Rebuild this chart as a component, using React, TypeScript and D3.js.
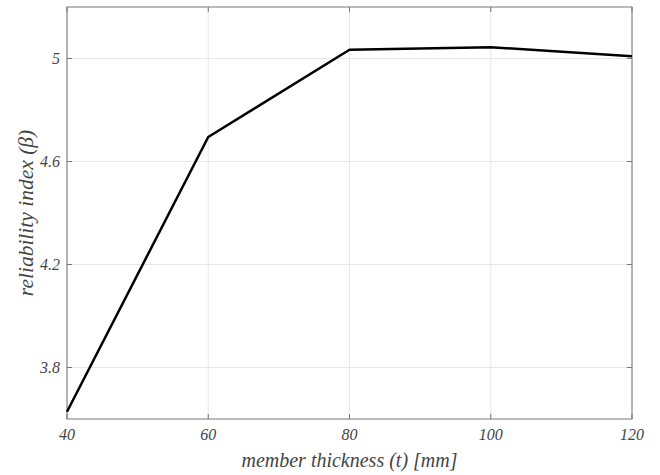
import React from "react";
import * as d3 from "d3";

const thickness = [40, 60, 80, 100, 120];
const beta = [3.628, 4.695, 5.034, 5.044, 5.009];
const xTicks = [40, 60, 80, 100, 120];
const yTicks = [3.8, 4.2, 4.6, 5];

const W = 660, H = 475;
const m = { left: 67, right: 28, top: 7, bottom: 56 };

export default function App() {
  const x = d3.scaleLinear().domain([40, 120]).range([m.left, W - m.right]);
  const y = d3.scaleLinear().domain([3.6, 5.2]).range([H - m.bottom, m.top]);
  const line = d3.line<number>().x((_, i) => x(thickness[i])).y((d) => y(d));
  const font = "'Liberation Serif', 'DejaVu Serif', serif";
  const x0 = m.left, x1 = W - m.right, y0 = m.top, y1 = H - m.bottom;
  return (
    <svg width={W} height={H} style={{ position: "absolute", left: 0, top: 0, background: "#fff" }}>
      <rect x={0} y={0} width={W} height={H} fill="#fff" />
      {xTicks.map((t) => (
        <line key={"gx" + t} x1={x(t)} x2={x(t)} y1={y0} y2={y1} stroke="#e6e6e6" strokeWidth={1} />
      ))}
      {yTicks.map((t) => (
        <line key={"gy" + t} x1={x0} x2={x1} y1={y(t)} y2={y(t)} stroke="#e6e6e6" strokeWidth={1} />
      ))}
      {xTicks.map((t) => (
        <g key={"tx" + t}>
          <line x1={x(t)} x2={x(t)} y1={y1} y2={y1 - 5} stroke="#777" />
          <line x1={x(t)} x2={x(t)} y1={y0} y2={y0 + 5} stroke="#777" />
          <text x={x(t)} y={y1 + 21} textAnchor="middle" style={{ fontFamily: font, fontStyle: "italic", fontSize: 16 }} fill="#444">
            {t}
          </text>
        </g>
      ))}
      {yTicks.map((t) => (
        <g key={"ty" + t}>
          <line x1={x0} x2={x0 + 5} y1={y(t)} y2={y(t)} stroke="#777" />
          <line x1={x1} x2={x1 - 5} y1={y(t)} y2={y(t)} stroke="#777" />
          <text x={x0 - 7} y={y(t) + 5} textAnchor="end" style={{ fontFamily: font, fontStyle: "italic", fontSize: 16 }} fill="#444">
            {String(t)}
          </text>
        </g>
      ))}
      <rect x={x0} y={y0} width={x1 - x0} height={y1 - y0} fill="none" stroke="#777" strokeWidth={1} />
      <path d={line(beta) || ""} fill="none" stroke="#000" strokeWidth={2.5} strokeLinejoin="round" />
      <text x={(x0 + x1) / 2} y={467} textAnchor="middle" style={{ fontFamily: font, fontStyle: "italic", fontSize: 20 }} fill="#444">
        member thickness (t) [mm]
      </text>
      <text
        transform={`translate(33, ${(y0 + y1) / 2}) rotate(-90)`}
        textAnchor="middle"
        style={{ fontFamily: font, fontStyle: "italic", fontSize: 21.5 }}
        fill="#444"
      >
        reliability index (β)
      </text>
    </svg>
  );
}
